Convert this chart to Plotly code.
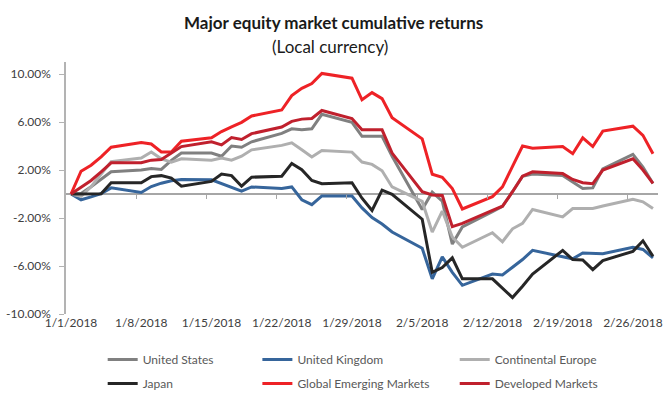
import plotly.graph_objects as go

# ---------------- data (cumulative return, %) ----------------
dates = [
    "2018-01-01", "2018-01-02", "2018-01-03", "2018-01-04", "2018-01-05",
    "2018-01-08", "2018-01-09", "2018-01-10", "2018-01-11", "2018-01-12",
    "2018-01-15", "2018-01-16", "2018-01-17", "2018-01-18", "2018-01-19",
    "2018-01-22", "2018-01-23", "2018-01-24", "2018-01-25", "2018-01-26",
    "2018-01-29", "2018-01-30", "2018-01-31", "2018-02-01", "2018-02-02",
    "2018-02-05", "2018-02-06", "2018-02-07", "2018-02-08", "2018-02-09",
    "2018-02-12", "2018-02-13", "2018-02-14", "2018-02-15", "2018-02-16",
    "2018-02-19", "2018-02-20", "2018-02-21", "2018-02-22", "2018-02-23",
    "2018-02-26", "2018-02-27", "2018-02-28",
]

united_states = [
    0.00, 0.05, 0.60, 1.20, 1.85,
    2.00, 2.12, 2.05, 2.80, 3.41,
    3.41, 3.15, 4.00, 3.90, 4.35,
    5.05, 5.43, 5.35, 5.43, 6.64,
    5.97, 4.81, 4.81, 4.81, 3.15,
    -1.29, 0.15, -0.60, -4.17, -2.75,
    -1.48, -1.02, 0.19, 1.48, 1.67,
    1.55, 1.00, 0.46, 0.51, 2.10,
    3.30, 2.25, 0.88,
]

united_kingdom = [
    0.00, -0.48, -0.24, 0.03, 0.51,
    0.13, 0.62, 0.90, 1.10, 1.20,
    1.18, 0.86, 0.59, 0.24, 0.59,
    0.46, 0.59, -0.48, -0.89, -0.16,
    -0.16, -1.16, -1.96, -2.50, -3.17,
    -4.52, -7.07, -5.24, -6.53, -7.61,
    -6.67, -6.75, -6.10, -5.46, -4.70,
    -5.24, -5.40, -4.92, -4.95, -4.97,
    -4.44, -4.62, -5.32,
]

continental_europe = [
    0.00, -0.20, 0.60, 1.67, 2.70,
    3.00, 3.50, 2.93, 2.66, 2.93,
    2.82, 3.00, 2.82, 3.15, 3.68,
    4.05, 4.27, 3.68, 3.09, 3.63,
    3.49, 2.66, 2.47, 1.94, 0.59,
    -0.62, -3.17, -1.42, -3.58, -4.44,
    -3.23, -3.98, -2.90, -2.45, -1.29,
    -1.91, -1.21, -1.21, -1.21, -1.00,
    -0.45, -0.65, -1.21,
]

japan = [
    0.00, 0.00, 0.00, 0.03, 0.94,
    0.94, 1.45, 1.53, 1.32, 0.65,
    1.05, 1.67, 1.53, 0.65, 1.40,
    1.48, 2.55, 2.02, 1.13, 0.86,
    0.94, -0.35, -1.37, 0.32, -0.03,
    -2.10, -6.53, -6.13, -5.32, -7.07,
    -7.07, -7.82, -8.63, -7.69, -6.67,
    -4.70, -5.46, -5.50, -6.30, -5.55,
    -4.78, -3.90, -5.19,
]

global_emerging = [
    0.00, 1.90, 2.40, 3.10, 3.90,
    4.30, 4.17, 3.50, 3.50, 4.40,
    4.68, 5.20, 5.60, 5.97, 6.50,
    7.00, 8.20, 8.80, 9.20, 10.05,
    9.65, 7.85, 8.45, 7.95, 6.35,
    4.60, 1.65, 1.40, 0.45, -1.25,
    -0.22, 0.60, 2.30, 4.00, 3.82,
    3.95, 3.36, 4.68, 3.95, 5.24,
    5.65, 4.89, 3.36,
]

developed = [
    0.00, 0.60, 1.13, 1.85, 2.60,
    2.60, 2.82, 2.88, 3.41, 3.95,
    4.35, 4.09, 4.70, 4.54, 5.03,
    5.58, 6.05, 6.24, 6.29, 6.96,
    6.29, 5.35, 5.35, 5.35, 3.41,
    0.19, -0.08, -0.13, -2.72, -2.45,
    -1.37, -1.02, 0.19, 1.48, 1.85,
    1.70, 1.21, 0.94, 0.86, 2.00,
    2.93, 2.00, 0.88,
]

series_names = ["United States", "United Kingdom", "Continental Europe",
                "Japan", "Global Emerging Markets", "Developed Markets"]

x_tick_dates = ["2018-01-01", "2018-01-08", "2018-01-15", "2018-01-22", "2018-01-29",
                "2018-02-05", "2018-02-12", "2018-02-19", "2018-02-26"]
x_tick_labels = ["1/1/2018", "1/8/2018", "1/15/2018", "1/22/2018", "1/29/2018",
                 "2/5/2018", "2/12/2018", "2/19/2018", "2/26/2018"]
x_tick_marks = ["2018-01-07 12:00", "2018-01-14 12:00", "2018-01-21 12:00",
                "2018-01-28 12:00", "2018-02-04 12:00", "2018-02-11 12:00",
                "2018-02-18 12:00", "2018-02-25 12:00"]

y_tick_vals = [-10, -6, -2, 2, 6, 10]
y_tick_labels = ["-10.00%", "-6.00%", "-2.00%", "2.00%", "6.00%", "10.00%"]

# ---------------- styling ----------------
colors = ["#808080", "#36659b", "#afafaf", "#262626", "#ee2226", "#c0202d"]
values = [united_states, united_kingdom, continental_europe, japan,
          global_emerging, developed]
legend_ids = ["legend", "legend2", "legend3", "legend4", "legend5", "legend6"]

W, H = 668, 403
ML, MR, MT, MB = 66, 5, 62, 80
PW, PH = W - ML - MR, H - MT - MB


def px_to_paper_x(px):
    return (px - ML) / PW


def px_to_paper_y(py):
    return (H - MB - py) / PH


fig = go.Figure()
for name, vals, col, lg in zip(series_names, values, colors, legend_ids):
    fig.add_trace(go.Scatter(
        x=dates, y=vals, mode="lines", name=name,
        line=dict(color=col, width=3), legend=lg,
    ))

# helper trace so the tick-mark axis on the zero line exists
fig.add_trace(go.Scatter(x=[], y=[], xaxis="x2", yaxis="y",
                         showlegend=False, hoverinfo="skip"))

font_family = "Lato"
legend_font = dict(family=font_family, size=12, color="#595959")
col_x = [103, 259, 458]
row_y = [370, 395]
legend_layout = {}
positions = [(0, 0), (1, 0), (2, 0), (0, 1), (1, 1), (2, 1)]
for lg, (c, r) in zip(legend_ids, positions):
    legend_layout[lg] = dict(
        x=px_to_paper_x(col_x[c]), y=px_to_paper_y(row_y[r]),
        xanchor="left", yanchor="middle", orientation="v",
        bgcolor="rgba(0,0,0,0)", font=legend_font, itemwidth=30,
    )

x_range = ["2017-12-31 12:00", "2018-02-28 12:00"]

fig.update_layout(
    width=W, height=H,
    margin=dict(l=ML, r=MR, t=MT, b=MB, pad=0),
    paper_bgcolor="white", plot_bgcolor="white",
    font=dict(family=font_family, size=12, color="#404040"),
    showlegend=True,
    xaxis=dict(
        type="date", range=x_range, tickvals=x_tick_dates, ticktext=x_tick_labels,
        ticks="", showline=False, showgrid=False, zeroline=False,
        tickfont=dict(family=font_family, size=12, color="#404040"),
        fixedrange=True,
    ),
    xaxis2=dict(
        type="date", range=x_range, overlaying="x", anchor="free",
        position=(0 - (-10)) / 21, side="bottom",
        tickvals=x_tick_marks, ticks="outside", ticklen=4, tickwidth=1,
        tickcolor="#a6a6a6", showticklabels=False, showline=False,
        showgrid=False, zeroline=False,
    ),
    yaxis=dict(
        range=[-10, 11], tickvals=y_tick_vals, ticktext=y_tick_labels,
        ticks="outside", ticklen=5, tickwidth=1, tickcolor="#b3b3b3",
        showline=True, linecolor="#b3b3b3", linewidth=1.5,
        showgrid=False, zeroline=True, zerolinecolor="#a6a6a6", zerolinewidth=1.5,
        tickfont=dict(family=font_family, size=12, color="#404040"),
        ticklabelstandoff=6,
    ),
    annotations=[
        dict(text="<b>Major equity market cumulative returns</b>",
             x=px_to_paper_x(336), y=px_to_paper_y(21), xref="paper", yref="paper",
             xanchor="center", yanchor="middle", showarrow=False,
             font=dict(family=font_family, size=17, color="#1a1a1a")),
        dict(text="(Local currency)",
             x=px_to_paper_x(332), y=px_to_paper_y(46), xref="paper", yref="paper",
             xanchor="center", yanchor="middle", showarrow=False,
             font=dict(family=font_family, size=17, color="#1a1a1a")),
    ],
    **legend_layout,
)

fig.write_html("out.html")
